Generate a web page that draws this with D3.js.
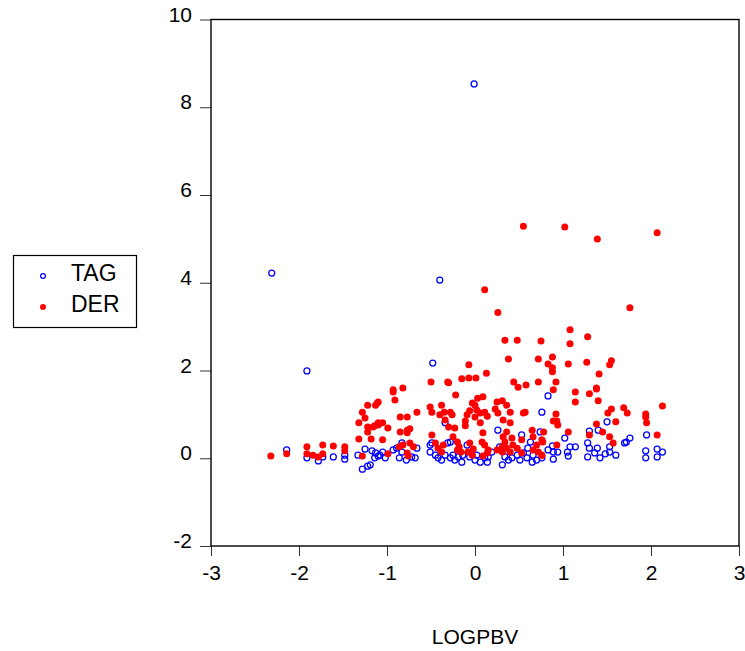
<!DOCTYPE html>
<meta charset="utf-8">
<script src="https://d3js.org/d3.v7.min.js"></script>
<style>
  body { margin: 0; background: #fff; }
  text { font-family: "Liberation Sans", Arial, sans-serif; fill: #000; }
</style>
<div id="chart"></div>
<script>

// x = LOGPBV, y = value
var tagX = [-0.01, -2.31, -0.40, -1.91, -0.48, 0.83, 0.76, 1.50, 1.02,
  -2.14, -1.91, -1.78, -1.61, -1.48, -1.48, -1.33, -1.25, -1.17, -1.13, -1.10, -1.28, -1.22, -1.14, -1.73,
  -1.08, -1.05, -1.02, -0.93, -0.89, -0.86, -0.83, -0.78, -0.72, -0.68, -0.66, -0.83, -1.19,
  -0.51, -0.49, -0.45, -0.42, -0.38, -0.34, -0.31, -0.28, -0.25, -0.23, -0.19, -0.15, -0.14, -0.09, -0.06,
  0.00, 0.02, 0.06, 0.11, 0.14, 0.15, 0.19, 0.26, 0.28, 0.31, 0.34, 0.38, 0.42, 0.48, 0.51, 0.55, 0.59,
  0.65, 0.66, 0.70, 0.74, 0.53, 0.63, 0.60, -0.34, -0.28, -0.51,
  1.30, 1.40, 1.95, 1.70, 1.76, 1.72, 0.88, 0.83, 0.89, 0.94, 1.08, 1.14, 1.05, 1.06, 0.89, 0.76,
  1.28, 1.30, 1.28, 1.39, 1.36, 1.42, 1.48, 1.53, 1.53, 1.60, 1.94, 1.94, 2.07, 2.13, 2.07];
var tagY = [8.53, 4.22, 4.06, 1.99, 2.17, 1.42, 1.05, 0.83, 0.46,
  0.19, 0.01, -0.06, 0.03, 0.07, -0.02, 0.07, 0.21, 0.17, 0.12, 0.05, -0.25, -0.18, 0.01, 0.03,
  0.07, 0.14, 0.01, 0.19, 0.23, 0.01, 0.14, -0.04, 0.03, 0.01, 0.23, 0.35, -0.15,
  0.14, 0.35, 0.07, 0.01, -0.04, 0.07, 0.35, 0.01, 0.07, -0.04, 0.03, -0.09, 0.07, 0.30, 0.03,
  -0.04, 0.07, -0.09, 0.01, -0.09, 0.03, 0.14, 0.64, 0.26, -0.15, 0.03, -0.04, 0.01, 0.07, -0.04, 0.12, 0.01,
  -0.09, 0.07, -0.04, 0.60, 0.53, 0.37, 0.23, 0.81, 0.37, 0.30,
  0.62, 0.64, 0.53, 0.35, 0.46, 0.37, 0.28, 0.19, 0.14, 0.14, 0.26, 0.26, 0.14, 0.05, -0.02, 0.01,
  0.35, 0.23, 0.03, 0.23, 0.12, 0.01, 0.10, 0.14, 0.26, 0.07, 0.17, 0.01, 0.21, 0.14, 0.03];

var derX = [0.55, 1.02, 1.39, 2.07, 0.11, 0.26, 1.76,
  0.34, 0.48, 1.08, 0.75, 1.28, 1.08,
  0.72, 0.88, 0.83, 0.88, 0.88, 1.06, 1.27, 1.55, 1.53, 1.41,
  0.72, 0.92, 0.58, 1.38,
  0.38, -0.07, -0.50, -0.31, -0.15, -0.07, 0.01, 0.13, 0.44, 0.49, -0.93, -0.82,
  -1.22, -1.11, -1.28, -1.25, -1.32, -1.22, -1.16, -1.10, -1.22, -1.32, -1.18, -1.28,
  -2.32, -2.14, -1.91, -1.91, -1.73, -1.61, -1.84, -1.78, -1.73, -1.48, -1.48,
  -0.93, -0.91, -1.10, -1.13, -0.30, -0.22, -0.51, -0.38, -0.35, -0.28, -0.40, -0.26, -0.49,
  -0.85, -0.77, -0.66, -1.10, -1.05, -1.14, -0.99, -0.77, -0.74, -0.85, -1.05, -0.77,
  -0.82, -0.74, -0.70, -0.86, -0.99, -0.77, -0.76,
  -0.49, -0.45, -0.36, -0.42, -0.38, -0.25, -0.23, -0.30, -0.34, -0.20, -0.18, -0.20, -0.16,
  -0.11, -0.09, -0.11, -0.06, -0.03, 0.00, 0.03, 0.09, 0.02, 0.00, 0.06, 0.11, 0.14, 0.06,
  0.09, 0.08, -0.06, -0.02, -0.08, -0.03, 0.11, 0.15, 0.14, 0.09,
  0.25, 0.31, 0.23, 0.26, 0.36, 0.40, 0.32, 0.40, 0.36, 0.32, 0.34, 0.31, 0.25, 0.31, 0.36, 0.40,
  0.43, 0.42, 0.53, 0.55, 0.57, 0.65, 0.66, 0.70, 0.66, 0.72, 0.76, 0.77, 0.53, 0.48,
  0.89, 1.14, 1.30, 1.38, 1.14, 1.40, 1.51, 1.55, 1.69, 1.73, 1.60, 1.94, 1.94, 1.95, 2.13, 2.07,
  0.92, 0.89, 0.93, 0.94, 0.78, 1.06, 1.38, 1.45, 1.30, 1.53, 1.57, 0.93, 0.76, 0.76];
var derY = [5.29, 5.27, 5.00, 5.14, 3.84, 3.32, 3.43,
  2.69, 2.69, 2.93, 2.67, 2.77, 2.61,
  2.26, 2.31, 2.15, 2.06, 1.97, 2.15, 2.19, 2.22, 2.13, 1.92,
  1.74, 1.74, 1.67, 1.60,
  2.26, 2.13, 1.74, 1.74, 1.81, 1.83, 1.83, 1.94, 1.74, 1.62, 1.56, 1.60,
  1.21, 1.26, 1.05, 0.92, 0.81, 0.71, 0.71, 0.76, 0.60, 0.44, 0.44, 0.05,
  0.05, 0.10, 0.26, 0.10, 0.30, 0.28, 0.07, 0.03, 0.10, 0.26, 0.17,
  1.51, 1.33, 1.28, 1.21, 1.72, 1.44, 1.17, 1.21, 1.05, 1.05, 0.99, 0.99, 1.05,
  0.94, 0.94, 1.05, 0.81, 0.81, 0.74, 0.69, 0.64, 0.67, 0.60, 0.42, 0.58,
  0.30, 0.35, 0.26, 0.26, 0.10, 0.12, 0.05,
  0.53, 0.35, 0.30, 0.23, 0.14, 0.49, 0.69, 0.71, 0.87, 0.37, 0.26, 0.19, 0.14,
  0.74, 0.99, 0.85, 1.08, 1.26, 1.21, 1.37, 1.40, 1.10, 0.94, 1.03, 1.05, 0.96, 0.81,
  0.58, 0.37, 0.35, 0.21, 0.14, 0.07, 0.30, 0.19, 0.12, 0.05,
  1.28, 1.31, 1.12, 1.03, 1.21, 1.05, 0.87, 0.81, 0.60, 0.49, 0.37, 0.26, 0.19, 0.14, 0.23, 0.14,
  0.30, 0.46, 0.42, 1.03, 1.05, 0.64, 0.49, 0.30, 0.19, 0.14, 0.07, 0.37, 0.12, 0.23,
  1.56, 1.51, 1.47, 1.58, 1.28, 1.31, 1.03, 1.12, 1.15, 1.03, 0.83, 1.01, 0.94, 0.81, 1.19, 0.53,
  1.01, 0.85, 0.85, 0.76, 0.60, 0.60, 0.78, 0.60, 0.53, 0.49, 0.35, 0.30, 0.42, 0.07];

var xTicks = [-3, -2, -1, 0, 1, 2, 3];
var yTicks = [-2, 0, 2, 4, 6, 8, 10];
var seriesNames = ["TAG", "DER"];

var W = 745, H = 651;
var margin = {left: 211, right: 739, top: 19.5, bottom: 546};

var svg = d3.select("#chart").append("svg")
    .attr("width", W)
    .attr("height", H);

var x = d3.scaleLinear().domain([-3, 3]).range([margin.left, margin.right]);
var y = d3.scaleLinear().domain([-2, 10]).range([margin.bottom, margin.top]);

var fmt = function(d) { return String(d); };

// axes
var xAxis = svg.append("g")
    .attr("transform", "translate(0," + margin.bottom + ")")
    .call(d3.axisBottom(x).tickValues(xTicks).tickSize(10).tickPadding(9).tickFormat(fmt));
var yAxis = svg.append("g")
    .attr("transform", "translate(" + margin.left + ",0)")
    .call(d3.axisLeft(y).tickValues(yTicks).tickSize(11).tickPadding(8).tickFormat(fmt));

svg.selectAll(".domain").remove();
svg.selectAll(".tick line").attr("stroke", "#333").attr("stroke-width", 1);
svg.selectAll(".tick text")
    .style("font-size", "21px")
    .style("font-family", "'Liberation Sans', Arial, sans-serif")
    .attr("fill", "#000");
yAxis.selectAll(".tick text").attr("dy", "0.08em");

// frame
svg.append("rect")
    .attr("x", margin.left).attr("y", margin.top)
    .attr("width", margin.right - margin.left).attr("height", margin.bottom - margin.top)
    .attr("fill", "none")
    .attr("stroke", "#000")
    .attr("stroke-width", 1.4);

// points
var tag = tagX.map(function(d, i) { return [d, tagY[i]]; });
var der = derX.map(function(d, i) { return [d, derY[i]]; });

svg.append("g").selectAll("circle")
    .data(tag).enter().append("circle")
    .attr("cx", function(d) { return x(d[0]); })
    .attr("cy", function(d) { return y(d[1]); })
    .attr("r", 3)
    .attr("fill", "none")
    .attr("stroke", "#0000ff")
    .attr("stroke-width", 1.25);

svg.append("g").selectAll("circle")
    .data(der).enter().append("circle")
    .attr("cx", function(d) { return x(d[0]); })
    .attr("cy", function(d) { return y(d[1]); })
    .attr("r", 3.5)
    .attr("fill", "#ff0000");

// x label
svg.append("text")
    .attr("x", (margin.left + margin.right) / 2)
    .attr("y", 644)
    .attr("text-anchor", "middle")
    .style("font-size", "21px")
    .text("LOGPBV");

// legend
var lg = svg.append("g");
lg.append("rect")
    .attr("x", 13.5).attr("y", 255.5)
    .attr("width", 123).attr("height", 72)
    .attr("fill", "#fff")
    .attr("stroke", "#000")
    .attr("stroke-width", 1.2);
lg.append("circle").attr("cx", 43).attr("cy", 276).attr("r", 2.4)
    .attr("fill", "none").attr("stroke", "#0000ff").attr("stroke-width", 1.2);
lg.append("circle").attr("cx", 43).attr("cy", 307).attr("r", 3)
    .attr("fill", "#ff0000");
lg.selectAll(".lab").data(seriesNames).enter().append("text")
    .attr("class", "lab")
    .attr("x", 71)
    .attr("y", function(d, i) { return 280.5 + i * 31.5; })
    .style("font-size", "23px")
    .text(function(d) { return d; });

</script>
